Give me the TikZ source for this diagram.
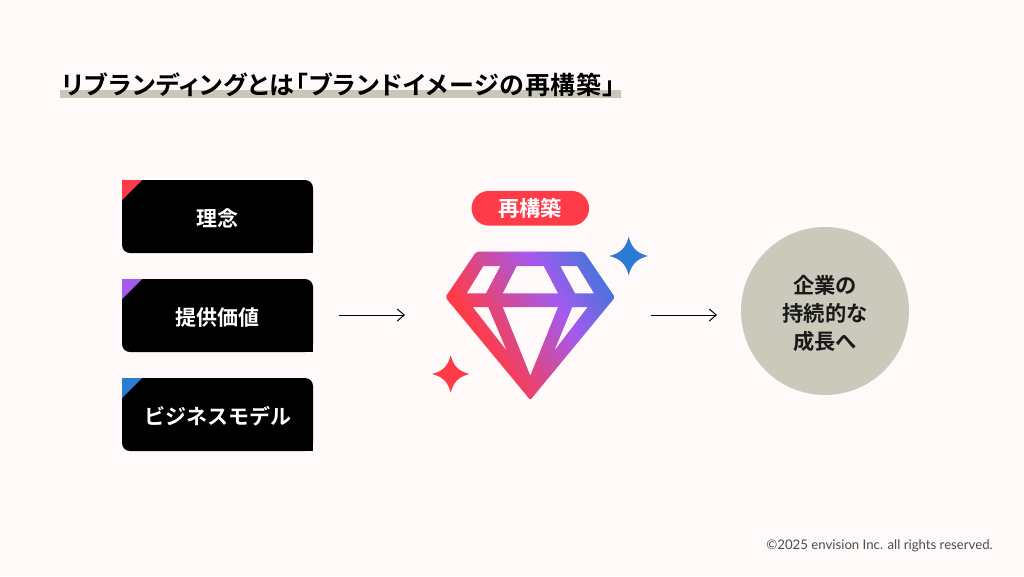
\documentclass[tikz,border=0pt]{standalone}
\usepackage{fontspec}
\setmainfont{Noto Sans}
\newfontfamily\cjk{Noto Sans CJK JP}[BoldFont={Noto Sans CJK JP Bold}]
\newfontfamily\cjkp{Noto Sans CJK JP}[BoldFont={Noto Sans CJK JP Bold},RawFeature={+palt},LetterSpace=3.6]
\newfontfamily\foot{Lato}
\usetikzlibrary{arrows.meta}
\definecolor{bgc}{HTML}{FFFAF9}
\definecolor{redc}{HTML}{FF3B47}
\definecolor{purc}{HTML}{A45AEE}
\definecolor{bluc}{HTML}{2E7BD6}
\definecolor{sandc}{HTML}{CBC8BC}
\definecolor{linec}{HTML}{C9C7B7}
\pgfdeclareverticalshading{gem}{100bp}{color(0bp)=(redc); color(34bp)=(redc); color(61bp)=(purc); color(82bp)=(bluc); color(100bp)=(bluc)}
\tikzset{
  box/.style={fill=black,rounded corners=8pt,minimum width=191pt,minimum height=73pt,inner sep=0pt,text=white,text height=21pt,text depth=2pt,font=\cjk\bfseries\fontsize{21}{25}\selectfont},
  arrowline/.style={draw=black,line width=1pt,-{Straight Barb[length=7pt,width=12pt,line width=1pt]}},
  pill/.style={fill=redc,rounded corners=17.3pt,minimum width=117.5pt,minimum height=34.7pt,inner sep=0pt,text=white,font=\cjk\bfseries\fontsize{21.3}{25}\selectfont},
  disc/.style={circle,fill=sandc,minimum size=168pt,inner sep=0pt,align=center,text=black!90,font=\cjk\bfseries\fontsize{21.3}{28}\selectfont},
}
\newcommand{\sparkle}[4]{\fill[#4] (#1,#2-#3) .. controls (#1+0.15*#3,#2-0.42*#3) and (#1+0.42*#3,#2-0.15*#3) .. (#1+#3,#2) .. controls (#1+0.42*#3,#2+0.15*#3) and (#1+0.15*#3,#2+0.42*#3) .. (#1,#2+#3) .. controls (#1-0.15*#3,#2+0.42*#3) and (#1-0.42*#3,#2+0.15*#3) .. (#1-#3,#2) .. controls (#1-0.42*#3,#2-0.15*#3) and (#1-0.15*#3,#2-0.42*#3) .. cycle;}
\begin{document}
\begin{tikzpicture}[x=1pt,y=-1pt]
\useasboundingbox (0,0) rectangle (1024,576);
\fill[bgc] (0,0) rectangle (1024,576);
% title
\fill[linec] (60,90) rectangle (621,97.5);
\node[anchor=west,inner sep=0pt,font=\cjkp\bfseries\fontsize{25}{28}\selectfont,text=black] (title) at (62,85) {リブランディングとは「ブランドイメージの再構築」};
% boxes
\foreach \nm/\yy/\col/\txt in {a/216.5/redc/理念,b/315.5/purc/提供価値,c/414.5/bluc/ビジネスモデル}{
  \node[box] (\nm) at (217.5,\yy) {\txt};
  \fill[black] (303,\yy+26) rectangle (313,\yy+36.5);
  \fill[\col] (122,\yy-36.5) -- (142,\yy-36.5) -- (122,\yy-16.5) -- cycle;
}
% arrows
\coordinate (a1s) at (339,315);
\coordinate (a1e) at (405,315);
\coordinate (a2s) at (651,315);
\coordinate (a2e) at (717,315);
\draw[arrowline] (a1s) -- (a1e);
\draw[arrowline] (a2s) -- (a2e);
% pill
\node[pill] (rebuild) at (530.3,208.3) {再構築};
% gem
\shade[shading=gem,shading angle=-60,even odd rule]
  [rounded corners=2pt] (476.2,251.7) -- (583.8,251.7) -- (615,297.3) -- (530.3,400) -- (445.3,297.3) -- cycle
  [sharp corners]
  (483.3,266) -- (500.3,266) -- (486,293.3) -- (466.7,293.3) -- cycle
  (516.7,266) -- (543.7,266) -- (558,293.3) -- (502.7,293.3) -- cycle
  (560.3,266) -- (577.3,266) -- (594,293.3) -- (575,293.3) -- cycle
  (472.7,307) -- (488.3,307) -- (506.7,350.7) -- cycle
  (502.7,307) -- (558,307) -- (530.3,375.7) -- cycle
  (572.3,307) -- (587.7,307) -- (554.3,350.7) -- cycle;
\sparkle{628.7}{256}{19.3}{bluc}
\sparkle{450.7}{374}{18.7}{redc}
% circle
\node[disc] (goal) at (825,311) {\rule{0pt}{24pt}企業の\\持続的な\\成長へ};
% footer
\node[anchor=east,inner sep=0pt,font=\foot\fontsize{13.2}{15}\selectfont,text=black!70] (copy) at (993,546) {©2025 envision Inc. all rights reserved.};
\end{tikzpicture}
\end{document}
